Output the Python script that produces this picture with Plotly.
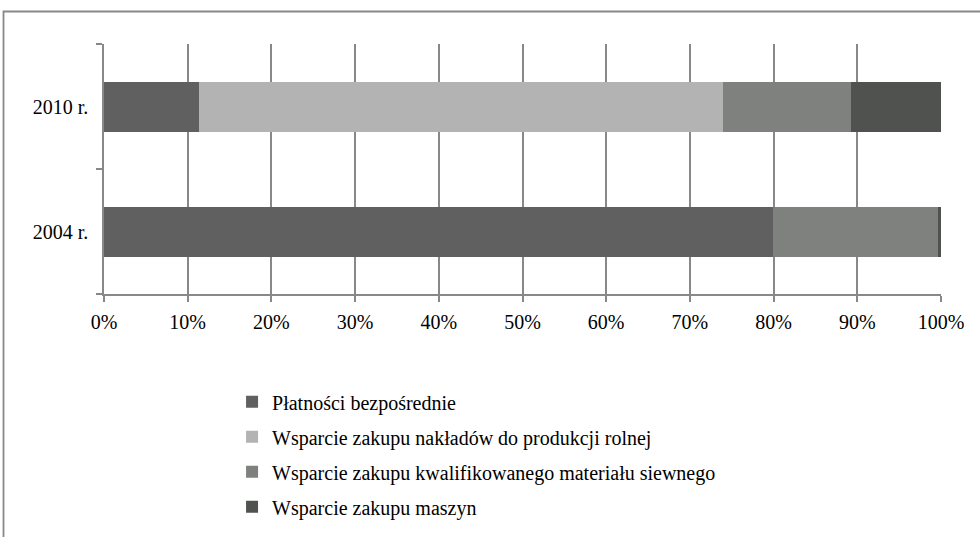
import plotly.graph_objects as go

categories = ["2004 r.", "2010 r."]
series_names = [
    "Płatności bezpośrednie",
    "Wsparcie zakupu nakładów do produkcji rolnej",
    "Wsparcie zakupu kwalifikowanego materiału siewnego",
    "Wsparcie zakupu maszyn",
]
platnosci = [79.9, 11.35]
naklady = [0.0, 62.55]
material = [19.7, 15.35]
maszyny = [0.4, 10.75]
x_ticks = [0, 10, 20, 30, 40, 50, 60, 70, 80, 90, 100]
x_tick_labels = [f"{v}%" for v in x_ticks]

colors = ["#606060", "#b3b3b3", "#7f817f", "#505250"]
values = [platnosci, naklady, material, maszyny]

fig = go.Figure()
for i, (name, vals) in enumerate(zip(series_names, values)):
    fig.add_trace(go.Bar(
        y=categories, x=vals, name=name, orientation="h",
        marker=dict(color=colors[i], line=dict(width=0)),
        legendgroup=f"g{i}",
    ))

font = dict(family="Liberation Serif", size=20, color="#000000")

fig.update_layout(
    barmode="stack",
    bargap=0.6,
    width=980, height=537,
    margin=dict(l=104, r=39, t=44, b=243, pad=0, autoexpand=False),
    paper_bgcolor="white", plot_bgcolor="white",
    font=font,
    showlegend=True,
    legend=dict(
        x=0.153, y=-0.353, xanchor="left", yanchor="top",
        orientation="v", traceorder="grouped", tracegroupgap=6,
        font=font, itemwidth=30, bgcolor="rgba(0,0,0,0)",
    ),
    xaxis=dict(
        range=[0, 100], tickvals=x_ticks, ticktext=x_tick_labels,
        showgrid=True, gridcolor="#888888", gridwidth=1.5,
        showline=True, linecolor="#888888", linewidth=1.5,
        ticks="outside", ticklen=6, tickcolor="#888888", tickwidth=1.5,
        ticklabelstandoff=3,
        zeroline=False, fixedrange=True,
    ),
    yaxis=dict(
        type="category", categoryorder="array", categoryarray=categories,
        showgrid=False, showline=True, linecolor="#888888", linewidth=1.5,
        ticks="outside", ticklen=6, tickcolor="#888888", tickwidth=1.5,
        tickson="boundaries", ticklabelstandoff=10,
        zeroline=False, fixedrange=True,
    ),
    shapes=[dict(
        type="rect", xref="paper", yref="paper",
        x0=(3.5 - 104) / 837, x1=(990 - 104) / 837,
        y0=(294 - 545) / 250, y1=(294 - 11.5) / 250,
        line=dict(color="#888888", width=1.8), fillcolor="rgba(0,0,0,0)",
        layer="below",
    )],
)

fig.write_html(
    "out.html",
    config={"displayModeBar": False},
    post_script="document.body.style.margin='0px';document.body.style.overflow='hidden';",
)
